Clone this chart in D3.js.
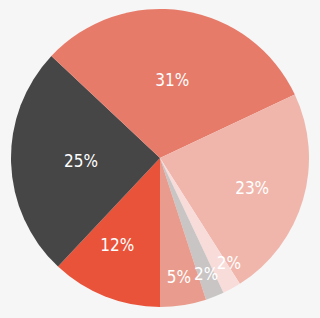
<!DOCTYPE html>
<html>
<head>
<meta charset="utf-8">
<script src="https://cdn.jsdelivr.net/npm/d3@7"></script>
<style>
  html, body { margin: 0; padding: 0; background: #f6f6f6; }
  svg { display: block; }
</style>
</head>
<body>
<div id="chart"></div>
<script>
// Slices, in drawing order starting from 6 o'clock going clockwise
const labels = ["12%", "25%", "31%", "23%", "2%", "2%", "5%"];
const values = [12, 25, 31, 23, 2, 2, 5];
const colors = ["#e8533a", "#464646", "#e67b6a", "#f0b6ab", "#f8dcda", "#c9c5c5", "#e99c8d"];

const width = 320, height = 318;
const cx = 160, cy = 158, radius = 149;

const svg = d3.select("#chart")
              .append("svg")
              .attr("width", width)
              .attr("height", height)
              .append("g")
              .attr("transform", `translate(${cx},${cy})`);

const data = values.map((v, i) => ({ value: v, label: labels[i], color: colors[i] }));

const pie = d3.pie()
              .sort(null)
              .value(d => d.value)
              .startAngle(Math.PI)
              .endAngle(3 * Math.PI);

const arc = d3.arc().innerRadius(0).outerRadius(radius);

const arcs = pie(data);

svg.selectAll("path")
   .data(arcs)
   .enter()
   .append("path")
   .attr("d", arc)
   .attr("fill", d => d.data.color);

// label placement: small slices pushed further out, the thin ones fanned apart
const labelRadius = v => radius * (v >= 25 ? 0.53 : v >= 12 ? 0.65 : v >= 5 ? 0.81 : 0.84);
const labelTurn = [0.08, 0, 0, 0.03, -0.08, 0, 0];

svg.selectAll("text")
   .data(arcs)
   .enter()
   .append("text")
   .attr("transform", (d, i) => {
       const r = labelRadius(d.data.value);
       const a = (d.startAngle + d.endAngle) / 2 + labelTurn[i];
       return `translate(${r * Math.sin(a)},${-r * Math.cos(a)})`;
   })
   .attr("text-anchor", "middle")
   .attr("dy", "0.36em")
   .attr("fill", "#fff")
   .style("font-family", "'Liberation Sans Narrow', 'DejaVu Sans Condensed', sans-serif")
   .style("font-size", "17px")
   .text(d => d.data.label);
</script>
</body>
</html>
